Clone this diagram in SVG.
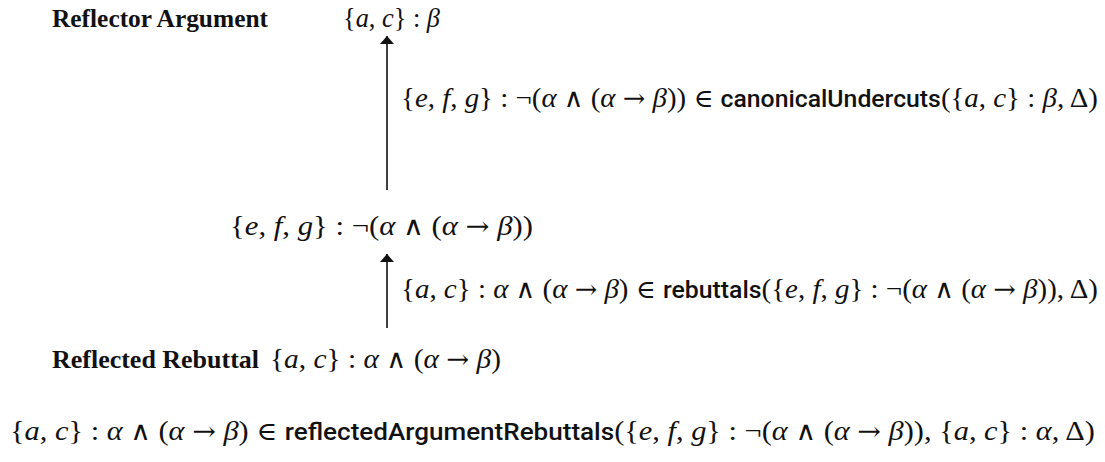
<svg xmlns="http://www.w3.org/2000/svg" width="1105" height="462" viewBox="0 0 1105 462">
<style>
.bg{fill:#fff}
.lbl{font-family:"Liberation Serif",serif;font-weight:bold;font-size:26px;fill:#111}
.m{font-family:"Liberation Serif",serif;font-size:28px;fill:#111}
.i{font-style:italic}
.o{font-family:"DejaVu Serif",serif;font-weight:normal;font-size:26px}
.f{font-family:Roboto,"Liberation Sans",sans-serif;font-weight:500;font-size:24px}
.edge{stroke:#111;stroke-width:1.6;fill:none}
</style>
<defs>
<marker id="ah" viewBox="0 0 8 14" refX="8" refY="7" markerWidth="8" markerHeight="14" markerUnits="userSpaceOnUse" orient="auto">
<path d="M0,0 L8,7 L0,14 Z" fill="#111"/>
</marker>
</defs>
<rect class="bg" x="0" y="0" width="1105" height="462"/>
<g id="connectors">
<line class="edge" x1="387" y1="190" x2="387" y2="36" marker-end="url(#ah)"/>
<line class="edge" x1="387" y1="328" x2="387" y2="254" marker-end="url(#ah)"/>
<text class="m" x="401" y="107" textLength="697" lengthAdjust="spacingAndGlyphs">{<tspan class="i">e</tspan>, <tspan class="i">f</tspan>, <tspan class="i">g</tspan>} : ¬(<tspan class="i">α</tspan> <tspan class="o">∧</tspan> (<tspan class="i">α</tspan> <tspan class="o">→</tspan> <tspan class="i">β</tspan>)) <tspan class="o">∈</tspan> <tspan class="f">canonicalUndercuts</tspan>({<tspan class="i">a</tspan>, <tspan class="i">c</tspan>} : <tspan class="i">β</tspan>, Δ)</text>
<text class="m" x="401" y="298" textLength="697" lengthAdjust="spacingAndGlyphs">{<tspan class="i">a</tspan>, <tspan class="i">c</tspan>} : <tspan class="i">α</tspan> <tspan class="o">∧</tspan> (<tspan class="i">α</tspan> <tspan class="o">→</tspan> <tspan class="i">β</tspan>) <tspan class="o">∈</tspan> <tspan class="f">rebuttals</tspan>({<tspan class="i">e</tspan>, <tspan class="i">f</tspan>, <tspan class="i">g</tspan>} : ¬(<tspan class="i">α</tspan> <tspan class="o">∧</tspan> (<tspan class="i">α</tspan> <tspan class="o">→</tspan> <tspan class="i">β</tspan>)), Δ)</text>
</g>
<g id="reflector-argument">
<text class="lbl" x="52" y="27" textLength="216" lengthAdjust="spacingAndGlyphs">Reflector Argument</text>
<text class="m" x="343" y="27" textLength="97" lengthAdjust="spacingAndGlyphs">{<tspan class="i">a</tspan>, <tspan class="i">c</tspan>} : <tspan class="i">β</tspan></text>
</g>
<g id="undercut">
<text class="m" x="230" y="235" textLength="303" lengthAdjust="spacingAndGlyphs">{<tspan class="i">e</tspan>, <tspan class="i">f</tspan>, <tspan class="i">g</tspan>} : ¬(<tspan class="i">α</tspan> <tspan class="o">∧</tspan> (<tspan class="i">α</tspan> <tspan class="o">→</tspan> <tspan class="i">β</tspan>))</text>
</g>
<g id="reflected-rebuttal">
<text class="lbl" x="52" y="368" textLength="207" lengthAdjust="spacingAndGlyphs">Reflected Rebuttal</text>
<text class="m" x="270" y="368" textLength="231" lengthAdjust="spacingAndGlyphs">{<tspan class="i">a</tspan>, <tspan class="i">c</tspan>} : <tspan class="i">α</tspan> <tspan class="o">∧</tspan> (<tspan class="i">α</tspan> <tspan class="o">→</tspan> <tspan class="i">β</tspan>)</text>
</g>
<g id="statement">
<text class="m" x="10" y="440" textLength="1085" lengthAdjust="spacingAndGlyphs">{<tspan class="i">a</tspan>, <tspan class="i">c</tspan>} : <tspan class="i">α</tspan> <tspan class="o">∧</tspan> (<tspan class="i">α</tspan> <tspan class="o">→</tspan> <tspan class="i">β</tspan>) <tspan class="o">∈</tspan> <tspan class="f">reflectedArgumentRebuttals</tspan>({<tspan class="i">e</tspan>, <tspan class="i">f</tspan>, <tspan class="i">g</tspan>} : ¬(<tspan class="i">α</tspan> <tspan class="o">∧</tspan> (<tspan class="i">α</tspan> <tspan class="o">→</tspan> <tspan class="i">β</tspan>)), {<tspan class="i">a</tspan>, <tspan class="i">c</tspan>} : <tspan class="i">α</tspan>, Δ)</text>
</g>
</svg>
